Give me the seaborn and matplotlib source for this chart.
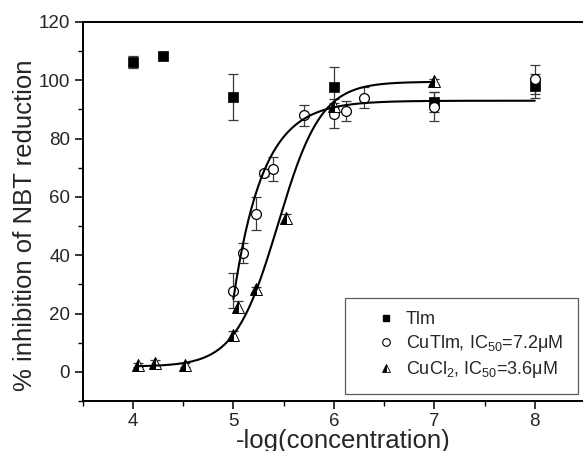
import numpy as np
import matplotlib
matplotlib.use("Agg")
import matplotlib.pyplot as plt
import seaborn as sns
import pandas as pd
from matplotlib.lines import Line2D
from matplotlib.ticker import MultipleLocator

# ---------------- data ----------------
tlm_x = [4.0, 4.301, 5.0, 6.0, 7.0, 8.0]
tlm_y = [106.3, 108.5, 94.3, 97.6, 92.6, 98.0]
tlm_err = [2.0, 0.8, 8.0, 6.8, 3.5, 4.0]

cutlm_x = [5.0, 5.097, 5.222, 5.301, 5.398, 5.699, 6.0, 6.125, 6.301, 7.0, 8.0]
cutlm_y = [27.9, 40.8, 54.2, 68.2, 69.6, 88.0, 88.5, 89.4, 94.0, 90.9, 100.3]
cutlm_err = [6.0, 3.5, 5.7, 1.0, 4.0, 3.6, 5.0, 3.5, 3.6, 5.0, 5.0]

cucl2_x = [4.046, 4.222, 4.523, 5.0, 5.046, 5.222, 5.523, 6.0, 7.0]
cucl2_y = [2.4, 2.9, 2.4, 12.6, 22.4, 28.3, 52.6, 91.1, 99.7]
cucl2_err = [0.8, 1.0, 0.6, 1.5, 2.0, 0.8, 1.5, 1.0, 0.8]

legend_labels = ["Tlm", "CuTlm, IC$_{50}$=7.2\u03bcM", "CuCl$_{2}$, IC$_{50}$=3.6\u03bcM"]

# fitted-curve parameters (as drawn in the reference)
cutlm_fit = dict(x_start=5.0, x_end=8.0, top=93.0, amp=68.0, rate=3.4)
cucl2_fit = dict(x_start=4.046, x_end=7.0, bottom=1.8, top=99.5, x0=5.444, dx=0.215)

# ---------------- style ----------------
sns.set_style("ticks")
plt.rcParams['font.family'] = ['Liberation Sans', 'DejaVu Sans']
plt.rcParams['mathtext.fontset'] = 'custom'
plt.rcParams['mathtext.rm'] = 'Liberation Sans'
plt.rcParams['mathtext.it'] = 'Liberation Sans:italic'
plt.rcParams['mathtext.default'] = 'regular'

W, H = 583, 451
fig = plt.figure(figsize=(W / 100, H / 100), dpi=100)
ax = fig.add_axes([82.7 / W, 1 - 401 / H, 502.3 / W, 379 / H])

# fitted curves
xa = np.linspace(cutlm_fit['x_start'], cutlm_fit['x_end'], 300)
ya = cutlm_fit['top'] - cutlm_fit['amp'] * np.exp(-cutlm_fit['rate'] * (xa - cutlm_fit['x_start']))
xb = np.linspace(cucl2_fit['x_start'], cucl2_fit['x_end'], 300)
yb = cucl2_fit['top'] + (cucl2_fit['bottom'] - cucl2_fit['top']) / (1 + np.exp((xb - cucl2_fit['x0']) / cucl2_fit['dx']))

# error bars
eb_kw = dict(fmt='none', ecolor='#3a3a3a', elinewidth=0.9, capsize=3.5, capthick=0.9, zorder=2)
ax.errorbar(tlm_x, tlm_y, yerr=tlm_err, **eb_kw)
ax.errorbar(cutlm_x, cutlm_y, yerr=cutlm_err, **eb_kw)
ax.errorbar(cucl2_x, cucl2_y, yerr=cucl2_err, **eb_kw)

# markers
sns.scatterplot(x=tlm_x, y=tlm_y, marker='s', s=42, color='black', edgecolor='black', linewidth=0.5, ax=ax, zorder=3)
sns.scatterplot(x=cutlm_x, y=cutlm_y, marker='o', s=50, facecolor='white', edgecolor='black', linewidth=0.9, ax=ax, zorder=3)
ax.plot(cucl2_x, cucl2_y, ls='', marker='^', ms=8, fillstyle='left', markerfacecolor='black',
        markerfacecoloralt='white', markeredgecolor='black', markeredgewidth=0.7, zorder=3)

# curves on top
sns.lineplot(x=xa, y=ya, color='black', linewidth=1.5, ax=ax, zorder=4)
sns.lineplot(x=xb, y=yb, color='black', linewidth=1.5, ax=ax, zorder=4)

# axes
ax.set_xlim(3.5, 8.5)
ax.set_ylim(-10, 120)
ax.xaxis.set_major_locator(MultipleLocator(1))
ax.xaxis.set_minor_locator(MultipleLocator(0.5))
ax.yaxis.set_major_locator(MultipleLocator(20))
ax.yaxis.set_minor_locator(MultipleLocator(10))
ax.tick_params(which='major', direction='out', length=6, width=1.1, labelsize=13.5, pad=3, color='black')
ax.tick_params(which='minor', direction='out', length=3.5, width=1.0, color='black')
for side in ['left', 'top', 'bottom']:
    ax.spines[side].set_linewidth(1.4)
    ax.spines[side].set_color('black')
ax.spines['right'].set_visible(False)

ax.set_xlabel('-log(concentration)', fontsize=18.5)
ax.xaxis.set_label_coords(0.519, -0.075)
ax.set_ylabel('% inhibition of NBT reduction', fontsize=18.5)
ax.yaxis.set_label_coords(-0.09, 0.464)

# legend
handles = [
    Line2D([], [], ls='', marker='s', ms=5, color='black'),
    Line2D([], [], ls='', marker='o', ms=5.5, markerfacecolor='white', markeredgecolor='black', markeredgewidth=0.8),
    Line2D([], [], ls='', marker='^', ms=6, fillstyle='left', markerfacecolor='black',
           markerfacecoloralt='white', markeredgecolor='black', markeredgewidth=0.6),
]
x0 = (345.3 - 82.7) / 502.3
x1 = (577.7 - 82.7) / 502.3
yb0 = 1 - (394 - 22) / 379
leg = ax.legend(handles, legend_labels, loc='lower left', bbox_to_anchor=(x0, yb0, x1 - x0, 0.25),
                mode='expand', borderaxespad=0, fontsize=13, frameon=True, fancybox=False,
                borderpad=0.75, handlelength=3.05, handletextpad=-0.45, labelspacing=0.28)
leg.get_frame().set_edgecolor('#333333')
leg.get_frame().set_linewidth(0.9)

fig.savefig('out.png', dpi=100)
